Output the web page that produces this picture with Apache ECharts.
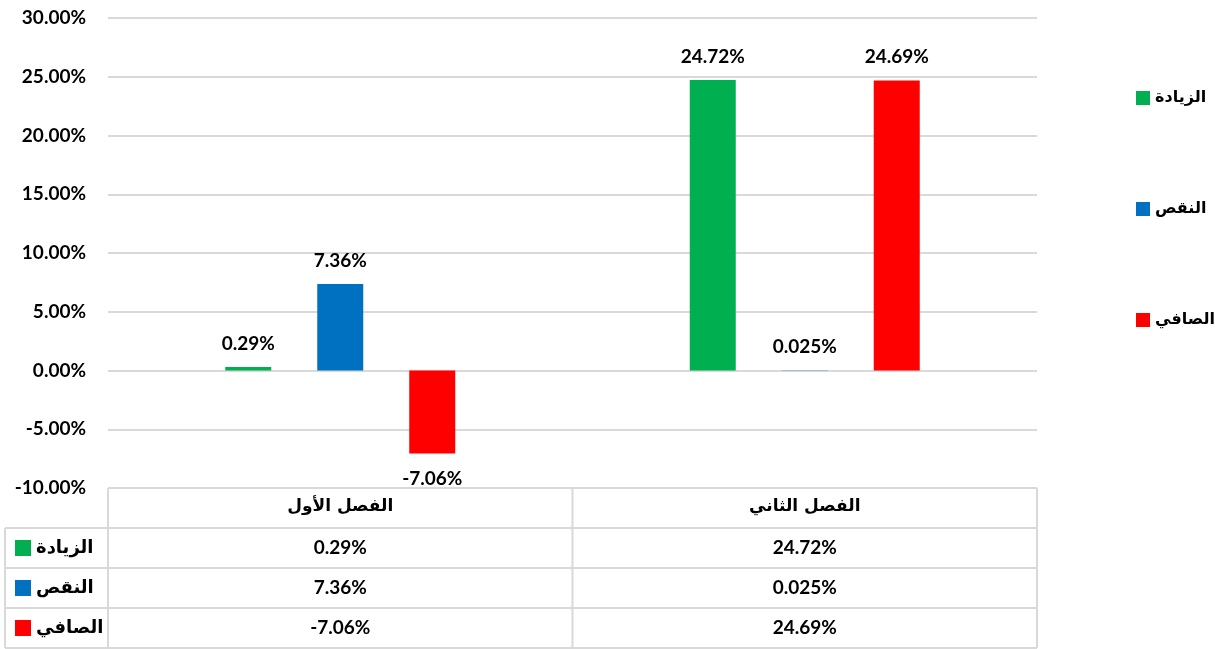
<!DOCTYPE html>
<html><head><meta charset="utf-8">
<script src="https://cdn.jsdelivr.net/npm/echarts@6/dist/echarts.min.js"></script>
<style>html,body{margin:0;padding:0;background:#fff}#c{width:1217px;height:649px}</style>
</head><body><div id="c"></div>
<script>
const categories = ['الفصل الأول', 'الفصل الثاني'];
const seriesNames = ['الزيادة', 'النقص', 'الصافي'];
const increase = [0.29, 24.72];
const decrease = [7.36, 0.025];
const net = [-7.06, 24.69];
const yTicks = { min: -10, max: 30, interval: 5 };
const colors = ['#00B050', '#0070C0', '#FF0000'];
const allSeries = [increase, decrease, net];

const NUMFONT = 'Lato, "DejaVu Sans", sans-serif';
const ARFONT = '"DejaVu Sans", sans-serif';
const chart = echarts.init(document.getElementById('c'), null, { renderer: 'canvas' });

function fmt(v) { return v + '%'; }

const series = allSeries.map((d, i) => ({
  name: seriesNames[i],
  type: 'bar',
  data: d.map(v => ({
    value: v,
    label: { position: v < 0 ? 'bottom' : 'top', distance: v < 0 ? 16 : 14 }
  })),
  barWidth: 46,
  barGap: '100%',
  itemStyle: { color: colors[i] },
  label: {
    show: true,
    formatter: p => fmt(p.value),
    fontFamily: NUMFONT, fontWeight: 'bold', fontSize: 19, color: '#000'
  }
}));

const option = {
  animation: false,
  backgroundColor: '#fff',
  grid: { left: 108, right: 180, top: 18, bottom: 161, containLabel: false },
  legend: [
    {
      data: seriesNames, orient: 'vertical', left: 1136, top: 88, itemGap: 91, padding: 0,
      icon: 'rect', itemWidth: 14, itemHeight: 14, selectedMode: false,
      textStyle: { fontFamily: ARFONT, fontWeight: 'bold', fontSize: 16, lineHeight: 20, color: '#000' }
    },
    {
      data: seriesNames, orient: 'vertical', left: 15, top: 538, itemGap: 20, padding: 0,
      icon: 'rect', itemWidth: 16, itemHeight: 16, selectedMode: false,
      textStyle: { fontFamily: ARFONT, fontWeight: 'bold', fontSize: 18, lineHeight: 20, color: '#000' }
    }
  ],
  xAxis: {
    type: 'category', data: categories,
    axisLine: { show: false }, axisTick: { show: false },
    axisLabel: {
      margin: 0, interval: 0,
      formatter: (val, idx) => {
        return '{h|' + val + '}\n' + allSeries.map(s => '{v|' + fmt(s[idx]) + '}').join('\n');
      },
      rich: {
        h: { fontFamily: ARFONT, fontWeight: 'bold', fontSize: 17, lineHeight: 38, color: '#000' },
        v: { fontFamily: NUMFONT, fontWeight: 'bold', fontSize: 19, lineHeight: 40, color: '#000', padding: [4, 0, 0, 0] }
      }
    }
  },
  yAxis: {
    type: 'value', min: yTicks.min, max: yTicks.max, interval: yTicks.interval,
    axisLine: { show: false }, axisTick: { show: false },
    splitLine: { lineStyle: { color: '#d9d9d9', width: 2 } },
    axisLabel: {
      margin: 22, formatter: v => v.toFixed(2) + '%',
      fontFamily: NUMFONT, fontWeight: 'bold', fontSize: 19, color: '#000'
    }
  },
  series
};
chart.setOption(option);

// data table borders, derived from the axes
const c0 = chart.convertToPixel({ xAxisIndex: 0 }, categories[0]);
const c1 = chart.convertToPixel({ xAxisIndex: 0 }, categories[1]);
const band = c1 - c0;
const xl = c0 - band / 2, xm = c0 + band / 2, xr = c1 + band / 2;
const yb = chart.convertToPixel({ yAxisIndex: 0 }, yTicks.min);
const rowH = 40;
const tableLeft = 5;
const ls = { stroke: '#d9d9d9', lineWidth: 2 };
const lines = [];
lines.push([xl, yb, xr, yb]);
for (let r = 1; r <= 4; r++) lines.push([tableLeft, yb + r * rowH, xr, yb + r * rowH]);
lines.push([xl, yb, xl, yb + 4 * rowH]);
lines.push([xm, yb, xm, yb + 4 * rowH]);
lines.push([xr, yb, xr, yb + 4 * rowH]);
lines.push([tableLeft, yb + rowH, tableLeft, yb + 4 * rowH]);
chart.setOption({
  graphic: lines.map(l => ({ type: 'line', shape: { x1: l[0], y1: l[1], x2: l[2], y2: l[3] }, style: ls, z: 0 }))
});
</script></body></html>
